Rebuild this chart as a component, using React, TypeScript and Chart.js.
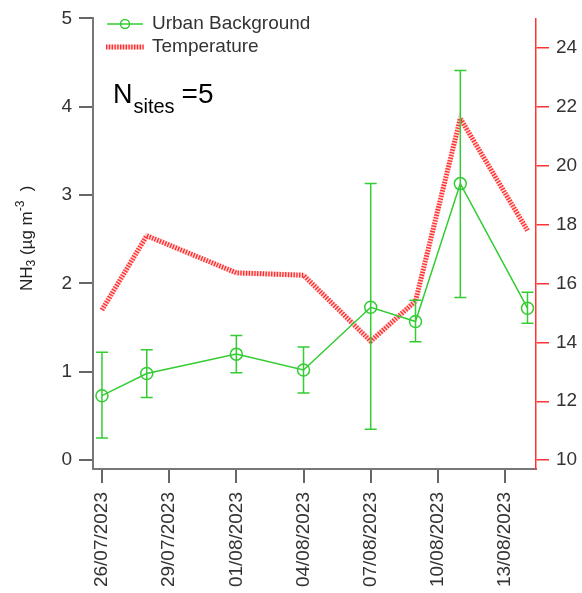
import React, { useEffect, useRef } from "react";
import { Chart, registerables } from "chart.js";

Chart.register(...registerables);

const sampleDates = ["26/07/2023", "28/07/2023", "01/08/2023", "04/08/2023", "07/08/2023", "09/08/2023", "11/08/2023", "14/08/2023"];
const nh3 = [0.73, 0.98, 1.2, 1.02, 1.73, 1.57, 3.13, 1.72];
const nh3Low = [0.25, 0.71, 0.99, 0.76, 0.35, 1.34, 1.84, 1.55];
const nh3High = [1.22, 1.25, 1.41, 1.28, 3.13, 1.81, 4.41, 1.9];
const temperature = [15.1, 17.62, 16.36, 16.28, 14.04, 15.4, 21.6, 17.8];
const tickDates = ["26/07/2023", "29/07/2023", "01/08/2023", "04/08/2023", "07/08/2023", "10/08/2023", "13/08/2023"];
const leftTicks = [0, 1, 2, 3, 4, 5];
const rightTicks = [10, 12, 14, 16, 18, 20, 22, 24];

const GREEN = "#33cc33";
const RED = "rgba(255,0,0,0.78)";
const PINK = "rgba(255,0,0,0.16)";
const FONT = "'Liberation Sans', Arial, sans-serif";

function toUTC(s: string) {
  const [d, m, y] = s.split("/").map(Number);
  return Date.UTC(y, m - 1, d);
}
const origin = toUTC(sampleDates[0]);
const dayOf = (s: string) => (toUTC(s) - origin) / 86400000;

const xs = sampleDates.map(dayOf);
const tickDays = tickDates.map(dayOf);
const tickLabelOf = (v: number) => {
  const i = tickDays.findIndex((t) => Math.abs(t - v) < 1e-6);
  return i >= 0 ? tickDates[i] : "";
};

const overlayPlugin = {
  id: "overlay",
  afterDatasetsDraw(chart: any) {
    const ctx = chart.ctx;
    const x = chart.scales.x;
    const y = chart.scales.y;
    ctx.save();
    ctx.strokeStyle = GREEN;
    ctx.lineWidth = 1.5;
    xs.forEach((d, i) => {
      const px = x.getPixelForValue(d);
      const top = y.getPixelForValue(nh3High[i]);
      const bot = y.getPixelForValue(nh3Low[i]);
      ctx.beginPath();
      ctx.moveTo(px, top);
      ctx.lineTo(px, bot);
      ctx.moveTo(px - 6, top);
      ctx.lineTo(px + 6, top);
      ctx.moveTo(px - 6, bot);
      ctx.lineTo(px + 6, bot);
      ctx.stroke();
    });
    ctx.restore();
  },
  afterDraw(chart: any) {
    const ctx = chart.ctx;
    ctx.save();
    // legend
    ctx.strokeStyle = GREEN;
    ctx.lineWidth = 1.5;
    ctx.beginPath();
    ctx.moveTo(107, 24);
    ctx.lineTo(143, 24);
    ctx.stroke();
    ctx.beginPath();
    ctx.arc(125, 24, 4.5, 0, Math.PI * 2);
    ctx.stroke();
    ctx.fillStyle = PINK;
    ctx.fillRect(106, 44.5, 37, 5);
    ctx.fillStyle = RED;
    for (let px = 106; px < 143; px += 2.8) {
      ctx.fillRect(px, 44.5, 1.4, 5);
    }
    ctx.fillStyle = "#333";
    ctx.font = `19px ${FONT}`;
    ctx.textBaseline = "middle";
    ctx.textAlign = "left";
    ctx.fillText("Urban Background", 152, 24);
    ctx.fillText("Temperature", 152, 47);

    // N sites
    ctx.fillStyle = "#000";
    ctx.textBaseline = "alphabetic";
    ctx.font = `27px ${FONT}`;
    ctx.fillText("N", 113, 103);
    const nW = ctx.measureText("N").width;
    ctx.font = `20px ${FONT}`;
    ctx.fillText("sites", 113 + nW + 1, 113);
    const sW = ctx.measureText("sites").width;
    ctx.font = `28px ${FONT}`;
    ctx.fillText("=5", 113 + nW + 1 + sW + 7, 103);

    // y axis title
    ctx.fillStyle = "#222";
    ctx.translate(32, 291);
    ctx.rotate(-Math.PI / 2);
    let cx = 0;
    const part = (t: string, size: number, dy: number) => {
      ctx.font = `${size}px ${FONT}`;
      ctx.fillText(t, cx, dy);
      cx += ctx.measureText(t).width;
    };
    part("NH", 17, 0);
    part("3", 12, 3);
    part(" (\u00b5g m", 17, 0);
    part("-3", 12, -8);
    part("  )", 17, 0);
    ctx.restore();
  },
};

export default function App() {
  const ref = useRef<HTMLCanvasElement>(null);
  useEffect(() => {
    if (!ref.current) return;
    Chart.defaults.font.family = FONT;
    const tempPoints = xs.map((d, i) => ({ x: d, y: temperature[i] }));
    const chart = new Chart(ref.current, {
      type: "line",
      data: {
        datasets: [
          {
            label: "Urban Background",
            data: xs.map((d, i) => ({ x: d, y: nh3[i] })),
            borderColor: GREEN,
            borderWidth: 1.5,
            pointRadius: 6,
            pointBorderWidth: 1.5,
            pointBorderColor: GREEN,
            pointBackgroundColor: "rgba(0,0,0,0)",
            tension: 0,
            yAxisID: "y",
            order: 0,
          },
          {
            label: "Temperature",
            data: tempPoints,
            borderColor: RED,
            borderWidth: 5,
            borderDash: [1.4, 1.4],
            pointRadius: 0,
            tension: 0,
            yAxisID: "y1",
            order: 1,
          },
          {
            label: "Temperature (underlay)",
            data: tempPoints,
            borderColor: PINK,
            borderWidth: 5,
            pointRadius: 0,
            tension: 0,
            yAxisID: "y1",
            order: 2,
          },
        ],
      },
      options: {
        responsive: false,
        animation: false,
        devicePixelRatio: 1,
        layout: { padding: { top: 15, left: 0, right: 0, bottom: 0 } },
        plugins: { legend: { display: false }, tooltip: { enabled: false } },
        scales: {
          x: {
            type: "linear",
            position: "bottom",
            min: -0.4,
            max: 19.38,
            afterBuildTicks: (s: any) => {
              s.ticks = tickDays.map((v) => ({ value: v }));
            },
            afterFit: (s: any) => {
              s.height = 593 - 469;
            },
            ticks: {
              autoSkip: false,
              minRotation: 90,
              maxRotation: 90,
              padding: 9,
              color: "#333",
              font: { size: 19 },
              callback: (v: any) => tickLabelOf(Number(v)),
            },
            grid: { drawOnChartArea: false, drawTicks: true, tickLength: 14, color: "#666", lineWidth: 2 },
            border: { color: "#777", width: 2 },
          },
          y: {
            type: "linear",
            position: "left",
            min: -0.1,
            max: 5,
            afterBuildTicks: (s: any) => {
              s.ticks = leftTicks.map((v) => ({ value: v }));
            },
            afterFit: (s: any) => {
              s.width = 93;
            },
            ticks: { color: "#333", font: { size: 19 }, padding: 7 },
            grid: { drawOnChartArea: false, drawTicks: true, tickLength: 14, color: "#666", lineWidth: 2 },
            border: { color: "#777", width: 2 },
          },
          y1: {
            type: "linear",
            position: "right",
            min: 10 - 0.3,
            max: 25,
            afterBuildTicks: (s: any) => {
              s.ticks = rightTicks.map((v) => ({ value: v }));
            },
            afterFit: (s: any) => {
              s.width = 582 - 536;
            },
            ticks: { color: "#333", font: { size: 19 }, padding: 7 },
            grid: { drawOnChartArea: false, drawTicks: true, tickLength: 13, color: "#ff3333", lineWidth: 1.5 },
            border: { color: "#ff3333", width: 1.5 },
          },
        },
      },
      plugins: [overlayPlugin],
    } as any);
    return () => chart.destroy();
  }, []);
  return (
    <div style={{ position: "absolute", left: 0, top: 0, width: 582, height: 593, background: "#fff" }}>
      <canvas ref={ref} width={582} height={593} />
    </div>
  );
}
